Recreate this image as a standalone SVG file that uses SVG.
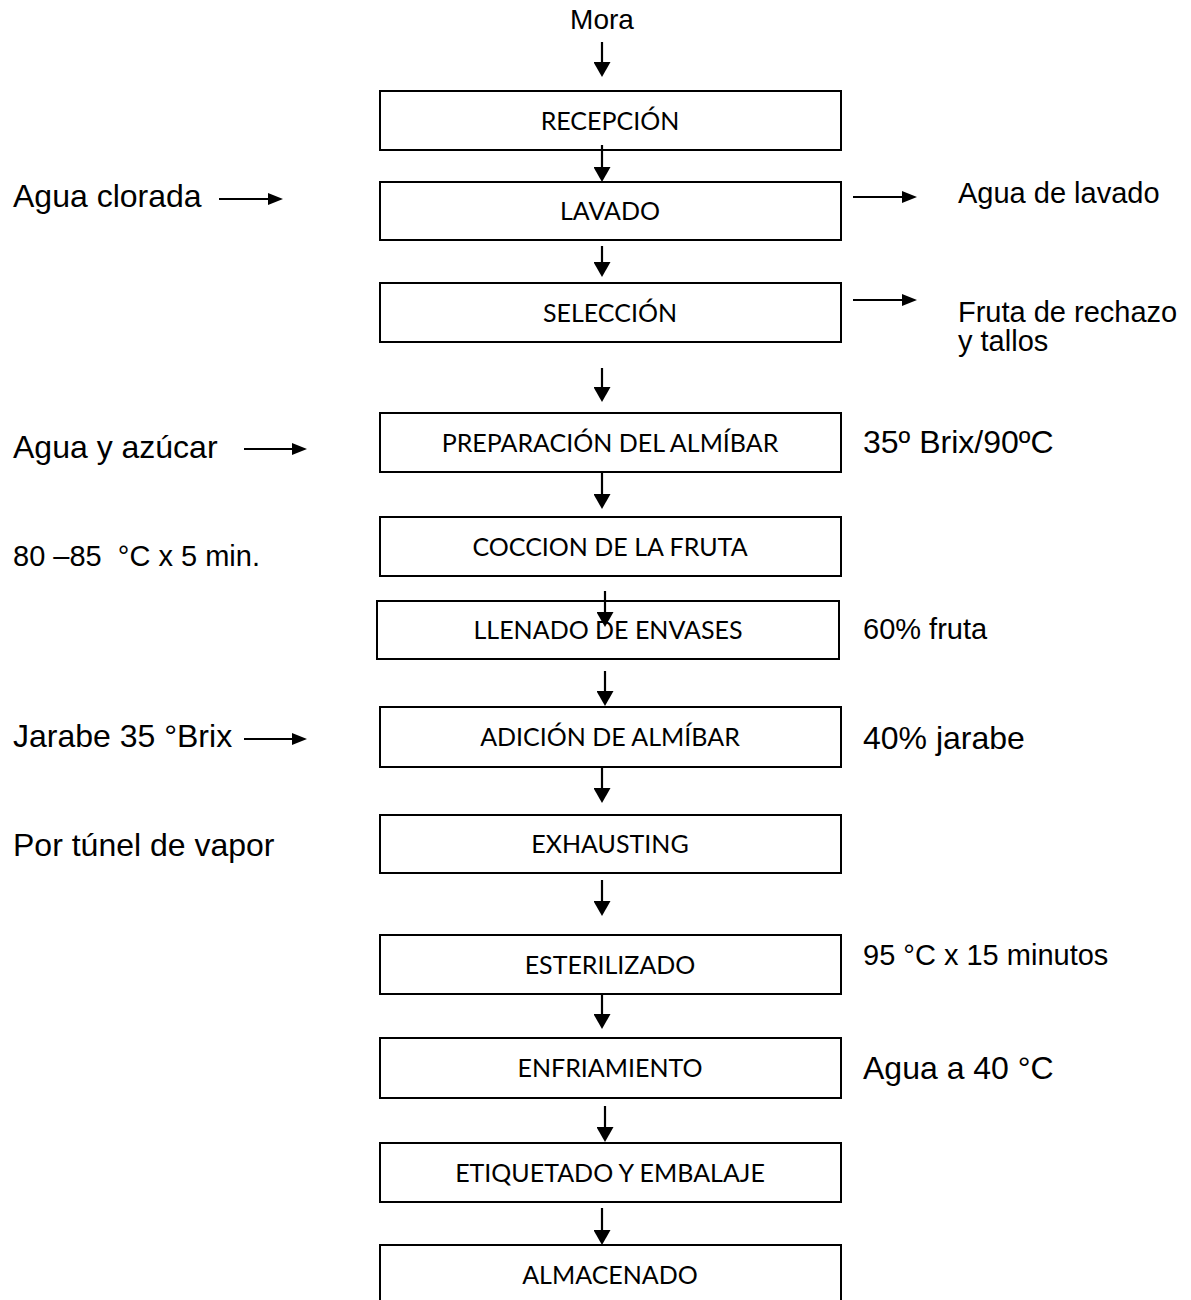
<svg xmlns="http://www.w3.org/2000/svg" width="1191" height="1300" viewBox="0 0 1191 1300">
  <style>
    .box { fill: #ffffff; stroke: #000000; stroke-width: 2; }
    .step { font-family: Lato, "Open Sans", sans-serif; font-size: 25px; fill: #000000; text-anchor: middle; }
    .note { font-family: "Liberation Sans", Arial, sans-serif; fill: #000000; }
    .big { font-size: 32px; }
    .small { font-size: 29px; }
    .flow { stroke: #000000; stroke-width: 2.2; fill: none; }
    .down { marker-end: url(#headDown); }
    .side { marker-end: url(#headSide); }
  </style>
  <defs>
    <marker id="headDown" markerUnits="userSpaceOnUse" markerWidth="16" markerHeight="17" refX="9" refY="8.5" orient="auto">
      <path d="M0,0 L15,8.5 L0,17 z" fill="#000000"/>
    </marker>
    <marker id="headSide" markerUnits="userSpaceOnUse" markerWidth="15" markerHeight="12" refX="9" refY="6" orient="auto">
      <path d="M0,0 L15,6 L0,12 z" fill="#000000"/>
    </marker>
  </defs>
  <rect width="1191" height="1300" fill="#ffffff"/>

  <!-- process steps -->
  <g id="recepcion"><rect class="box" x="380" y="91" width="461" height="59"/><text class="step" x="610" y="129.5">RECEPCIÓN</text></g>
  <g id="lavado"><rect class="box" x="380" y="182" width="461" height="58"/><text class="step" x="610" y="220">LAVADO</text></g>
  <g id="seleccion"><rect class="box" x="380" y="283" width="461" height="59"/><text class="step" x="610" y="321.5">SELECCIÓN</text></g>
  <g id="preparacion"><rect class="box" x="380" y="413" width="461" height="59"/><text class="step" x="610" y="451.5">PREPARACIÓN DEL ALMÍBAR</text></g>
  <g id="coccion"><rect class="box" x="380" y="517" width="461" height="59"/><text class="step" x="610" y="555.5">COCCION DE LA FRUTA</text></g>
  <g id="llenado"><rect class="box" x="377" y="601" width="462" height="58"/><text class="step" x="608" y="639">LLENADO DE ENVASES</text></g>
  <g id="adicion"><rect class="box" x="380" y="707" width="461" height="60"/><text class="step" x="610" y="746">ADICIÓN DE ALMÍBAR</text></g>
  <g id="exhausting"><rect class="box" x="380" y="815" width="461" height="58"/><text class="step" x="610" y="853">EXHAUSTING</text></g>
  <g id="esterilizado"><rect class="box" x="380" y="935" width="461" height="59"/><text class="step" x="610" y="973.5">ESTERILIZADO</text></g>
  <g id="enfriamiento"><rect class="box" x="380" y="1038" width="461" height="60"/><text class="step" x="610" y="1077">ENFRIAMIENTO</text></g>
  <g id="etiquetado"><rect class="box" x="380" y="1143" width="461" height="59"/><text class="step" x="610" y="1181.5">ETIQUETADO Y EMBALAJE</text></g>
  <g id="almacenado"><rect class="box" x="380" y="1245" width="461" height="62"/><text class="step" x="610" y="1283.5">ALMACENADO</text></g>

  <!-- inputs, outputs and conditions -->
  <g id="mora"><text class="note" x="602" y="29" font-size="28" text-anchor="middle">Mora</text></g>
  <g id="agua-clorada"><text class="note big" x="13" y="207">Agua clorada</text></g>
  <g id="agua-lavado"><text class="note small" x="958" y="203">Agua de lavado</text></g>
  <g id="rechazo"><text class="note small" x="958" y="322">Fruta de rechazo</text><text class="note small" x="958" y="351">y tallos</text></g>
  <g id="agua-azucar"><text class="note big" x="13" y="458">Agua y azúcar</text></g>
  <g id="brix-almibar"><text class="note big" x="863" y="453">35º Brix/90ºC</text></g>
  <g id="coccion-cond"><text class="note small" x="13" y="566" xml:space="preserve">80 –85  °C x 5 min.</text></g>
  <g id="fruta-pct"><text class="note small" x="863" y="639">60% fruta</text></g>
  <g id="jarabe"><text class="note big" x="13" y="747">Jarabe 35 °Brix</text></g>
  <g id="jarabe-pct"><text class="note big" x="863" y="749">40% jarabe</text></g>
  <g id="vapor"><text class="note big" x="13" y="856">Por túnel de vapor</text></g>
  <g id="esteril-cond"><text class="note small" x="863" y="965">95 °C x 15 minutos</text></g>
  <g id="enfria-cond"><text class="note big" x="863" y="1079">Agua a 40 °C</text></g>

  <!-- connectors -->
  <g id="connectors">
    <line class="flow down" x1="602" y1="42" x2="602" y2="71"/>
    <line class="flow down" x1="602" y1="145" x2="602" y2="176"/>
    <line class="flow down" x1="602" y1="246" x2="602" y2="271"/>
    <line class="flow down" x1="602" y1="368" x2="602" y2="396"/>
    <line class="flow down" x1="602" y1="473" x2="602" y2="503"/>
    <line class="flow down" x1="605" y1="591" x2="605" y2="621"/>
    <line class="flow down" x1="605" y1="671" x2="605" y2="700"/>
    <line class="flow down" x1="602" y1="767" x2="602" y2="797"/>
    <line class="flow down" x1="602" y1="880" x2="602" y2="910"/>
    <line class="flow down" x1="602" y1="995" x2="602" y2="1023"/>
    <line class="flow down" x1="605" y1="1106" x2="605" y2="1136"/>
    <line class="flow down" x1="602" y1="1208" x2="602" y2="1239"/>
    <line class="flow side" x1="219" y1="199" x2="277" y2="199"/>
    <line class="flow side" x1="244" y1="449" x2="301" y2="449"/>
    <line class="flow side" x1="244" y1="739" x2="301" y2="739"/>
    <line class="flow side" x1="853" y1="197" x2="911" y2="197"/>
    <line class="flow side" x1="853" y1="300" x2="911" y2="300"/>
  </g>
</svg>
